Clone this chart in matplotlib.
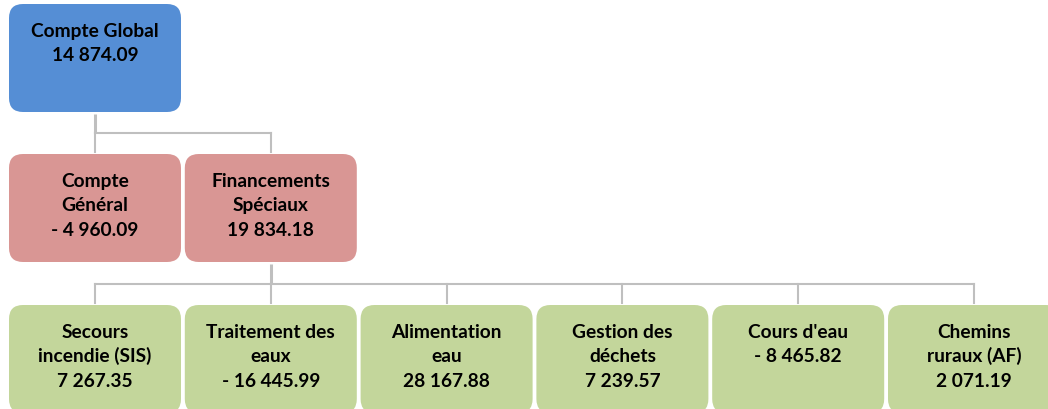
import matplotlib
matplotlib.use("Agg")
import matplotlib.pyplot as plt
from matplotlib.patches import FancyBboxPatch


# Data
names = [
    "Compte Global",
    "Compte\nGénéral",
    "Financements\nSpéciaux",
    "Secours\nincendie (SIS)",
    "Traitement des\neaux",
    "Alimentation\neau",
    "Gestion des\ndéchets",
    "Cours d'eau",
    "Chemins\nruraux (AF)",
]
values = [14874.09, -4960.09, 19834.18, 7267.35, -16445.99, 28167.88, 7239.57, -8465.82, 2071.19]
levels = [0, 1, 1, 2, 2, 2, 2, 2, 2]
parents = [None, 0, 0, 2, 2, 2, 2, 2, 2]

level_colors = {0: "#558ED5", 1: "#D99694", 2: "#C3D69B"}
line_color = "#BFBFBF"


def fmt(v):
    s = f"{abs(v):,.2f}".replace(",", " ")
    return ("- " + s) if v < 0 else s


# Layout (pixel coordinates, y downwards)
W, H = 1048, 410
box_w, box_h = 172, 108
step_x = 175.8
x_start = 9
level_top = {0: 5, 1: 155, 2: 306}

fig = plt.figure(figsize=(W / 100, H / 100), dpi=100)
ax = fig.add_axes([0, 0, 1, 1])
ax.set_xlim(0, W)
ax.set_ylim(H, 0)
ax.axis("off")

# box positions
pos = {}
count = {}
for i, lev in enumerate(levels):
    k = count.get(lev, 0)
    count[lev] = k + 1
    x0 = x_start + step_x * k
    y0 = level_top[lev]
    pos[i] = (x0, y0)

# connectors
for p in set(q for q in parents if q is not None):
    kids = [i for i, q in enumerate(parents) if q == p]
    px = pos[p][0] + box_w / 2
    pb = pos[p][1] + box_h
    kid_top = pos[kids[0]][1]
    bus_y = (pb + kid_top) / 2
    ax.plot([px, px], [pb + 2, bus_y], color=line_color, lw=2.2, solid_capstyle="butt", zorder=1)
    cx = [pos[k][0] + box_w / 2 for k in kids]
    ax.plot([min(cx), max(cx)], [bus_y, bus_y], color=line_color, lw=1.5, zorder=1)
    for c in cx:
        ax.plot([c, c], [bus_y, kid_top - 2], color=line_color, lw=1.5, zorder=1)

# boxes and text
for i, (name, val, lev) in enumerate(zip(names, values, levels)):
    x0, y0 = pos[i]
    box = FancyBboxPatch((x0, y0), box_w, box_h,
                         boxstyle="round,pad=0,rounding_size=14",
                         facecolor=level_colors[lev], edgecolor="none", zorder=2)
    ax.add_patch(box)
    lines = name.split("\n") + [fmt(val)]
    for j, ln in enumerate(lines):
        ax.text(x0 + box_w / 2, y0 + 32 + 24.3 * j, ln,
                ha="center", va="baseline", fontsize=13.8,
                fontweight="bold", family=["Lato", "DejaVu Sans"],
                color="black", zorder=3)

fig.savefig("out.png", dpi=100)
